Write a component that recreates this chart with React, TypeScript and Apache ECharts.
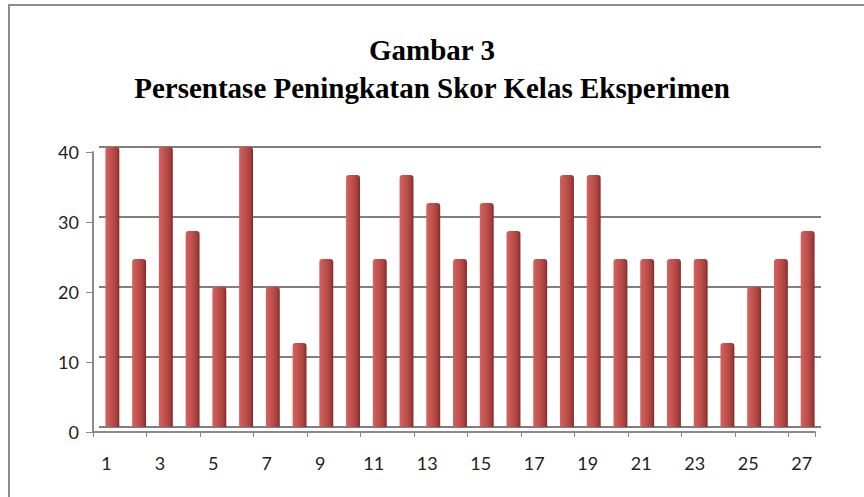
import React, { useEffect, useRef } from "react";
import * as echarts from "echarts";

const titleLine1 = "Gambar 3";
const titleLine2 = "Persentase Peningkatan Skor Kelas Eksperimen";
const categories = Array.from({ length: 27 }, (_, i) => String(i + 1));
const values = [40, 24, 40, 28, 20, 40, 20, 12, 24, 36, 24, 36, 32, 24, 32, 28, 24, 36, 36, 24, 24, 24, 24, 12, 20, 24, 28];
const yTicks = { min: 0, max: 40, interval: 10 };

export default function App() {
  const ref = useRef<HTMLDivElement>(null);
  useEffect(() => {
    if (!ref.current) return;
    const chart = echarts.init(ref.current, null, { renderer: "svg" });
    const labelFont = { fontFamily: "Lato", fontSize: 18, color: "#222222" };
    const axisGray = "#8a8a8a";
    chart.setOption({
      animation: false,
      backgroundColor: "#ffffff",
      title: [
        {
          text: titleLine1 + "\n" + titleLine2,
          left: "center",
          top: 26,
          textStyle: {
            fontFamily: "Liberation Serif",
            fontWeight: "bold",
            fontSize: 29,
            lineHeight: 38,
            color: "#000000",
          },
        },
      ],
      graphic: [
        {
          type: "polyline",
          shape: { points: [[9, 497], [9, 5], [864, 5]] },
          style: { stroke: "#8c8c8c", lineWidth: 2, fill: "none" },
        },
      ],
      grid: [
        // front plane: axes, ticks, labels
        { left: 93, width: 722, top: 152, height: 280, containLabel: false },
        // back wall: gridlines and bars
        { left: 99, width: 722, top: 147, height: 280, containLabel: false },
      ],
      xAxis: [
        {
          type: "category",
          gridIndex: 0,
          data: categories,
          axisLine: { show: true, lineStyle: { color: axisGray, width: 2 } },
          axisTick: { show: true, alignWithLabel: false, length: 5, lineStyle: { color: axisGray } },
          axisLabel: { interval: 1, margin: 22, ...labelFont },
        },
        {
          type: "category",
          gridIndex: 1,
          data: categories,
          show: false,
        },
      ],
      yAxis: [
        {
          type: "value",
          gridIndex: 0,
          min: yTicks.min,
          max: yTicks.max,
          interval: yTicks.interval,
          axisLine: { show: true, lineStyle: { color: axisGray, width: 2 } },
          axisTick: { show: true, length: 7, lineStyle: { color: axisGray } },
          axisLabel: { margin: 14, ...labelFont },
          splitLine: { show: false },
        },
        {
          type: "value",
          gridIndex: 1,
          min: yTicks.min,
          max: yTicks.max,
          interval: yTicks.interval,
          axisLine: { show: false },
          axisTick: { show: false },
          axisLabel: { show: false },
          splitLine: { show: true, lineStyle: { color: "#7f7f7f", width: 2 } },
        },
      ],
      series: [
        {
          type: "bar",
          xAxisIndex: 1,
          yAxisIndex: 1,
          data: values,
          barWidth: "52%",
          itemStyle: {
            color: new echarts.graphic.LinearGradient(0, 0, 1, 0, [
              { offset: 0, color: "#d4625e" },
              { offset: 0.45, color: "#c0504d" },
              { offset: 0.8, color: "#a5403d" },
              { offset: 1, color: "#7e2a28" },
            ]),
            borderRadius: [3, 3, 0, 0],
          },
        },
      ],
    });
    return () => chart.dispose();
  }, []);
  return (
    <div
      ref={ref}
      style={{ position: "absolute", left: 0, top: 0, width: 864, height: 497 }}
    />
  );
}
